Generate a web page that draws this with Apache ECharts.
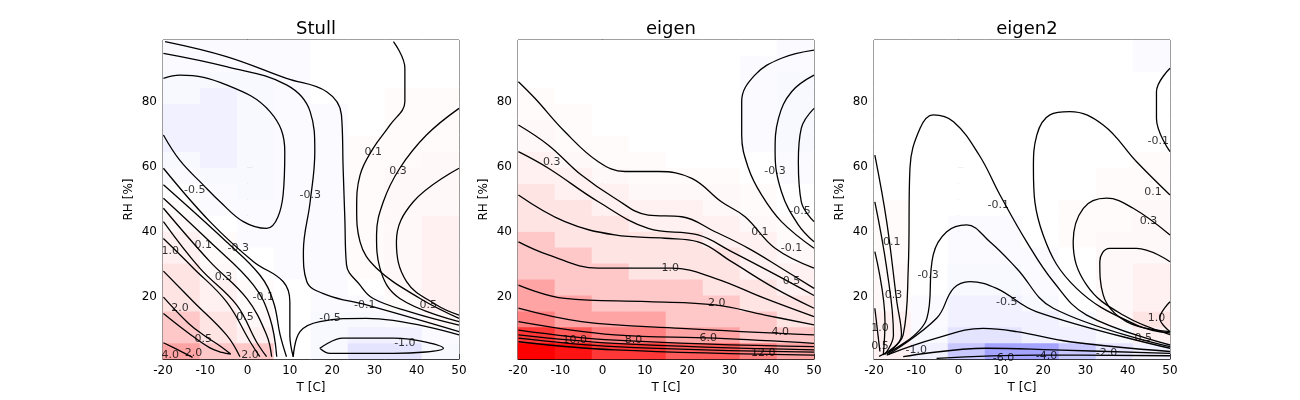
<!DOCTYPE html>
<html>
<head>
<meta charset="UTF-8">
<script src="https://cdn.jsdelivr.net/npm/echarts@6/dist/echarts.min.js"></script>
<style>
  body{ margin:0; background:#fff; }
  #chart{ width:1300px; height:400px; }
</style>
</head>
<body>
<div id="chart"></div>
<script>
// grid of values, columns = T, rows = RH (bottom to top)
const tCats = [-20, -10, 0, 10, 20, 30, 40, 50];
const rhCats = [2.5, 7.5, 12.5, 17.5, 22.5, 27.5, 32.5, 37.5, 42.5, 47.5, 52.5, 57.5, 62.5, 67.5, 72.5, 77.5, 82.5, 87.5, 92.5, 97.5];
const titles = ['Stull', 'eigen', 'eigen2'];
const levels = [-8, -6, -4, -2, -1, -0.5, -0.3, -0.1, 0.1, 0.3, 0.5, 1, 2, 4, 6, 8, 10, 12, 14, 20];

const stullGrid = [
  [4, 2, 2, 0, -0.5, -1.2, -1.2, -0.5],
  [2.5, 1.5, 0.5, -0.1, -0.5, -0.8, -0.7, -0.3],
  [2, 1, 0.3, -0.1, -0.4, -0.4, -0.2, 0.3],
  [1.5, 0.7, 0.2, -0.1, -0.3, -0.2, 0.1, 0.5],
  [1.2, 0.5, 0.1, -0.1, -0.2, 0, 0.3, 0.6],
  [1.0, 0.4, 0, -0.15, -0.2, 0.1, 0.4, 0.6],
  [0.8, 0.2, -0.1, -0.2, -0.2, 0.15, 0.45, 0.6],
  [0.6, 0.1, -0.15, -0.25, -0.15, 0.2, 0.45, 0.55],
  [0.4, 0, -0.2, -0.3, -0.15, 0.2, 0.45, 0.5],
  [0.1, -0.15, -0.3, -0.3, -0.15, 0.2, 0.4, 0.45],
  [-0.1, -0.3, -0.35, -0.3, -0.15, 0.2, 0.35, 0.4],
  [-0.3, -0.45, -0.45, -0.3, -0.15, 0.15, 0.3, 0.35],
  [-0.45, -0.55, -0.5, -0.3, -0.15, 0.12, 0.25, 0.3],
  [-0.55, -0.6, -0.5, -0.3, -0.15, 0.1, 0.2, 0.25],
  [-0.55, -0.6, -0.5, -0.3, -0.12, 0.08, 0.15, 0.2],
  [-0.55, -0.6, -0.5, -0.3, -0.12, 0.06, 0.12, 0.15],
  [-0.5, -0.55, -0.45, -0.25, -0.1, 0.05, 0.1, 0.1],
  [-0.4, -0.5, -0.4, -0.2, -0.1, 0.04, 0.07, 0.08],
  [-0.2, -0.3, -0.3, -0.2, -0.1, 0.03, 0.05, 0.05],
  [-0.15, -0.2, -0.2, -0.15, -0.08, 0.02, 0.03, 0.04]
];
const eigenGrid = [
  [14, 12, 11, 10, 9, 8, 6, 4],
  [10, 8, 7, 6, 5, 4, 3, 2],
  [7, 5.5, 4.5, 4, 3.5, 3, 2.5, 1.5],
  [5, 4, 3.2, 2.8, 2.5, 2, 1.5, 1],
  [4, 3, 2.5, 2.2, 2, 1.6, 1.2, 0.7],
  [3, 2.5, 2, 1.8, 1.6, 1.3, 0.9, 0.5],
  [2.5, 2, 1.6, 1.4, 1.3, 1, 0.7, 0.35],
  [2, 1.6, 1.3, 1.1, 1, 0.8, 0.5, 0.2],
  [1.6, 1.3, 1, 0.9, 0.8, 0.6, 0.35, 0.1],
  [1.3, 1, 0.8, 0.6, 0.55, 0.45, 0.2, 0],
  [1, 0.7, 0.5, 0.4, 0.35, 0.3, 0.1, -0.1],
  [0.8, 0.5, 0.3, 0.2, 0.15, 0.15, 0, -0.2],
  [0.6, 0.35, 0.2, 0.1, 0.08, 0.05, -0.1, -0.3],
  [0.45, 0.25, 0.12, 0.08, 0.05, 0.02, -0.15, -0.4],
  [0.3, 0.15, 0.08, 0.05, 0.03, 0, -0.2, -0.45],
  [0.2, 0.1, 0.05, 0.03, 0.02, 0, -0.2, -0.5],
  [0.12, 0.06, 0.03, 0.02, 0.01, 0, -0.2, -0.5],
  [0.08, 0.04, 0.02, 0.01, 0.01, 0, -0.15, -0.4],
  [0.05, 0.03, 0.01, 0.01, 0.01, 0, -0.12, -0.3],
  [0.03, 0.02, 0.01, 0, 0, 0, -0.1, -0.2]
];
const eigen2Grid = [
  [0.5, -1, -4, -6, -5, -3, -2, -1],
  [0.6, -0.5, -1.2, -1.2, -1, -0.8, -0.5, 0.6],
  [0.5, -0.2, -0.8, -0.8, -0.7, -0.4, 0.3, 1],
  [0.4, -0.15, -0.6, -0.6, -0.4, -0.1, 0.4, 0.8],
  [0.35, -0.1, -0.45, -0.5, -0.3, 0, 0.4, 0.6],
  [0.3, -0.1, -0.35, -0.4, -0.2, 0.05, 0.4, 0.5],
  [0.25, -0.1, -0.3, -0.3, -0.15, 0.08, 0.35, 0.45],
  [0.2, -0.1, -0.25, -0.2, -0.1, 0.1, 0.3, 0.4],
  [0.15, -0.08, -0.15, -0.15, -0.05, 0.1, 0.25, 0.35],
  [0.1, -0.06, -0.1, -0.1, -0.03, 0.1, 0.2, 0.3],
  [0.08, -0.05, -0.08, -0.08, 0, 0.08, 0.15, 0.25],
  [0.06, -0.04, -0.06, -0.06, 0, 0.06, 0.12, 0.2],
  [0.04, -0.03, -0.05, -0.04, 0, 0.04, 0.08, 0.12],
  [0.02, -0.02, -0.03, -0.02, 0, 0.03, 0.05, 0.05],
  [0, -0.01, -0.02, -0.01, 0, 0.02, 0.03, 0.02],
  [0, 0, -0.01, 0, 0, 0.01, 0.01, 0],
  [0, 0, 0, 0, 0, 0, 0, -0.05],
  [0, 0, 0, 0, 0, 0, -0.02, -0.1],
  [0, 0, 0, 0, 0, 0, -0.03, -0.12],
  [0, 0, 0, 0, 0, 0, -0.03, -0.12]
];

// contour lines [T, RH]
const stullLines = [
  [[-19.5,98.5],[-5,93.9],[9.2,87.2],[18.7,83.1],[22.2,76],[22.6,59.6],[23,44.2],[23.4,29.9],[26.6,23.7],[29.7,19.6],[38.4,15.5],[50,11.4]],
  [[-19.9,94.9],[-5,90.8],[9.2,85.2],[14.8,77],[15.9,64.7],[14.8,49.3],[13.2,34],[14,24.8],[18.7,20.7],[28.1,17.6],[50,9.4]],
  [[-19.9,87.2],[-16,88.2],[-5,85.2],[5.3,77],[8.8,64.7],[8.4,51.4],[4.5,41.1],[-1,43.2],[-6.5,49.3],[-10.5,54.5],[-16,62],[-19.9,69.8]],
  [[34.5,98.5],[37.2,90.3],[37.2,80.1],[33.7,72.9],[29.7,65.7],[26.6,57.5],[25.8,47.3],[26.6,37],[30.5,28.9],[40.8,19.6],[50,13.5]],
  [[50,78],[42.3,69.8],[36,59.6],[32.1,49.3],[30.5,39.1],[31.3,28.9],[36,19.6],[50,12.5]],
  [[50,59.6],[39.2,49.3],[35.2,37],[37.6,24.8],[44.7,17.6],[50,14.5]],
  [[10.8,1.7],[12.4,9.4],[17.1,12.5],[28.1,13.5],[50,8.4]],
  [[17.1,4.3],[22.6,7.4],[34.5,7.4],[46.3,4.3],[34.5,2.7],[19.5,2.7],[17.1,4.3]],
  [[-19.9,59.6],[-8.9,43.2],[1.4,30.9],[8.4,24.8],[10,18.6],[10,8.4],[10.8,1.7]],
  [[-19.9,54.5],[-5,37],[2.9,26.8],[6.1,18.6],[7.7,8.4],[9.2,1.7]],
  [[-19.9,50.4],[-8.9,37],[1.4,23.7],[5.3,13.5],[6.9,1.7]],
  [[-19.9,47.3],[-8.9,30.9],[-0.2,19.6],[4.5,8.4],[5.7,1.7]],
  [[-19.9,43.2],[-11.3,28.9],[-2.6,17.6],[2.1,6.3],[4.5,1.7]],
  [[-19.9,38],[-12.8,28.9],[-5,18.6],[0.6,6.3],[2.9,1.7]],
  [[-19.9,28],[-12.8,18.6],[-5,8.4],[-1.8,1.7]],
  [[-19.9,15],[-14,9],[-9,4.5],[-6,3],[-4,2.5],[-6.5,5],[-10,8],[-14,12],[-19.9,20]],
  [[-19.9,6],[-16,3.5],[-13,1.5]]
];
const eigenLines = [
  [[-19.9,86.2],[-16,81.1],[-8.9,70.8],[-1,61.6],[5.3,58.6],[13.2,58.6],[21.1,56.5],[28.1,49.3],[33.7,44.7],[40.8,35],[50,28.9]],
  [[-19.9,72.9],[-12.8,66.7],[-5,57.5],[2.9,50.4],[10.8,45.2],[18.7,44.7],[26.6,40.1],[34.5,35],[42.3,28.9],[50,22.7]],
  [[-19.9,64.7],[-12.8,59.6],[-1,49.3],[10.8,41.1],[22.6,39.1],[30.5,34],[40.8,27],[50,20.5]],
  [[-19.9,51.4],[-8.9,43.2],[2.9,39.1],[14.8,38.1],[22.6,37],[30.5,30.9],[40.8,22.7],[50,16.6]],
  [[-19.9,37],[-12.8,33],[-1,28.9],[16.3,28.9],[26.6,25.8],[38.4,19.6],[50,14]],
  [[-19.9,23.7],[-8.9,19.6],[10.8,18.6],[26.6,17.6],[38.4,14.5],[50,11.5]],
  [[-19.9,16.6],[-5,12.5],[18.7,10.4],[50,8.4]],
  [[-19.9,12.5],[2.9,8.4],[26.6,7.4],[50,5.8]],
  [[-19.9,9.9],[2.9,6.8],[50,4.8]],
  [[-19.9,8.4],[2.9,5.8],[50,3.8]],
  [[-19.9,7.4],[2.9,4.8],[50,3.1]],
  [[-19.9,6.3],[2.9,3.8],[50,2.2]],
  [[50,95.9],[42.3,93.4],[36,88.2],[32.9,80.1],[32.9,69.8],[34.5,59.6],[37.6,51.4],[42.3,43.2],[50,35]],
  [[50,88.2],[44.7,83.1],[41.6,74.9],[40.8,64.7],[42.3,52.4],[46.3,42.2],[50,37]],
  [[50,78],[47,71.9],[46.3,61.6],[47,49.3],[50,43.2]]
];
const eigen2Lines = [
  [[-18.8,1.8],[-13.1,8.4],[-11.9,28.9],[-11.5,59.6],[-9.1,71.9],[-6,76],[-1.2,73.9],[4.9,63.6],[9.8,51.4],[16.1,37],[22.4,24.8],[30.3,14.5],[50,5.3]],
  [[-17,2.7],[-7.5,13.5],[-6,33],[-2.8,40.1],[1.9,42.2],[7.4,37],[13.7,28.9],[22.4,16.6],[50,4.8]],
  [[-16.5,2.5],[-5.2,13.5],[-1.2,22.7],[2.7,24.8],[9,22.7],[18.5,15.5],[50,4.3]],
  [[-17,2.2],[-5.2,7.4],[5.8,10.4],[13.7,9.4],[26.3,6.3],[50,3.3]],
  [[-13.1,1.7],[6.6,4.3],[22.4,3.8],[50,2.7]],
  [[-5.2,1.2],[18.5,2.2],[50,2]],
  [[50,9],[42.1,11.4],[27.9,22.7],[20,39.1],[17.7,59.6],[18.5,69.8],[21.6,76],[26.3,77],[34.2,72.9],[42.1,61.6],[50,51.4]],
  [[50,8.5],[38.9,14.5],[30.3,23.7],[27.1,37],[29.5,47.3],[35,50.4],[41.3,47.3],[50,39.1]],
  [[50,9.4],[39.7,12.5],[34.2,20.7],[33.4,30.9],[35.7,35],[42.1,35],[50,30.9]],
  [[50,18.6],[47.6,13.5],[50,9.4]],
  [[50,90.3],[46.8,83.1],[46.8,74.9],[50,64.7]],
  [[-19.8,63.6],[-17,43.2],[-14.6,18.6],[-13.5,8.4],[-17,2.5]],
  [[-19.8,49.3],[-17,28.9],[-15.4,8.4],[-17.5,2.3]],
  [[-19.8,34],[-17.4,12.5],[-17.8,2.2]],
  [[-19.8,16.6],[-18.6,3.3]]
];

// inline contour labels [T, RH, text]
const stullLabels = [[-12.5,53,'-0.5'],[-10.5,36,'0.1'],[-2.2,35,'-0.3'],[-5.7,26,'0.3'],[3.7,20,'-0.1'],[-0.6,14,'0.5'],[-18.3,34,'1.0'],[-16,16.6,'2.0'],[-18.3,2.2,'4.0'],[-12.8,2.7,'2.0'],[-10.5,7,'0.5'],[0.6,2.2,'2.0'],[14.8,51.4,'-0.3'],[29.7,64.7,'0.1'],[35.6,58.6,'0.3'],[27.7,17.6,'-0.1'],[42.7,17.6,'0.5'],[19.5,13.5,'-0.5'],[37.2,5.8,'-1.0']];
const eigenLabels = [[-12,61.6,'0.3'],[37.2,40,'0.1'],[40.8,58.6,'-0.3'],[46.7,46.3,'-0.5'],[44.7,35,'-0.1'],[16,28.9,'1.0'],[44.7,24.8,'0.5'],[27,18.1,'2.0'],[42,9.4,'4.0'],[25,7.4,'6.0'],[7.3,6.8,'8.0'],[-6.6,6.8,'10.0'],[38,2.7,'12.0']];
const eigen2Labels = [[-15.8,37,'0.1'],[-15.4,20.7,'0.3'],[-18.6,10.4,'1.0'],[-18.6,5,'0.5'],[-10,3.8,'-1.0'],[-7.2,26.8,'-0.3'],[9.4,48.3,'-0.1'],[11.4,18.6,'-0.5'],[10.6,1.4,'-6.0'],[20.8,2,'-4.0'],[35,2.7,'-2.0'],[46,52.4,'0.1'],[44.9,43.2,'0.3'],[43.7,7.4,'0.5'],[46.8,13.5,'1.0'],[47.2,67.8,'-0.1']];

const grids = [stullGrid, eigenGrid, eigen2Grid];
const lineSets = [stullLines, eigenLines, eigen2Lines];
const labelSets = [stullLabels, eigenLabels, eigen2Labels];
const lefts = [163, 518, 874];

function bwr(v) {
  const t = Math.min(Math.abs(v) / 14, 1);
  const c = Math.round(255 * (1 - t));
  return v >= 0 ? `rgb(255,${c},${c})` : `rgb(${c},${c},255)`;
}
const pieces = [];
for (let i = 0; i < levels.length - 1; i++) {
  const mid = (levels[i] + levels[i + 1]) / 2;
  pieces.push({ gte: levels[i], lt: levels[i + 1], color: bwr(levels[i] < 0 && levels[i + 1] > 0 ? 0 : mid) });
}
pieces[0].gte = -100; pieces[pieces.length - 1].lt = 100;

const font = 'DejaVu Sans';
const option = { animation: false, grid: [], xAxis: [], yAxis: [], series: [], title: [] };

for (let p = 0; p < 3; p++) {
  const rect = { left: lefts[p], top: 40, width: 296, height: 319 };
  option.grid.push(Object.assign({}, rect));
  option.grid.push(Object.assign({ show: true, borderColor: '#000', borderWidth: 1, backgroundColor: 'transparent' }, rect));
  option.xAxis.push({ type: 'category', gridIndex: 2 * p, data: tCats, show: false });
  option.yAxis.push({ type: 'category', gridIndex: 2 * p, data: rhCats, show: false });
  option.xAxis.push({
    type: 'value', gridIndex: 2 * p + 1, min: -20, max: 50, interval: 10,
    name: 'T [C]', nameLocation: 'middle', nameGap: 20, nameTextStyle: { fontFamily: font, fontSize: 12, color: '#000' },
    axisLine: { lineStyle: { color: '#000' } }, splitLine: { show: false },
    axisTick: { inside: true, length: 5, lineStyle: { color: '#000' } },
    axisLabel: { fontFamily: font, fontSize: 12, color: '#000', margin: 6 }
  });
  option.yAxis.push({
    type: 'value', gridIndex: 2 * p + 1, min: 1, max: 99,
    name: 'RH [%]', nameLocation: 'middle', nameGap: 28, nameTextStyle: { fontFamily: font, fontSize: 12, color: '#000' },
    axisLine: { show: true, lineStyle: { color: '#000' } }, splitLine: { show: false },
    axisTick: { inside: true, length: 5, customValues: [20, 40, 60, 80], lineStyle: { color: '#000' } },
    axisLabel: { fontFamily: font, fontSize: 12, color: '#000', margin: 6, customValues: [20, 40, 60, 80] }
  });
  option.title.push({
    text: titles[p], left: lefts[p] + 148, top: 15, textAlign: 'center',
    textStyle: { fontFamily: font, fontSize: 18, fontWeight: 'normal', color: '#000' }
  });
  const hm = [];
  grids[p].forEach((row, yi) => row.forEach((v, xi) => hm.push([xi, yi, v])));
  option.series.push({ type: 'heatmap', xAxisIndex: 2 * p, yAxisIndex: 2 * p, data: hm, z: 1 });
  lineSets[p].forEach(pts => option.series.push({
    type: 'line', xAxisIndex: 2 * p + 1, yAxisIndex: 2 * p + 1, data: pts, smooth: 0.4,
    symbol: 'none', lineStyle: { color: '#000', width: 1.3 }, z: 3, clip: true
  }));
  option.series.push({
    type: 'scatter', xAxisIndex: 2 * p + 1, yAxisIndex: 2 * p + 1, symbolSize: 0, z: 4,
    data: labelSets[p].map(d => ({ value: [d[0], d[1]], name: d[2] })),
    label: { show: true, position: 'inside', formatter: '{b}', fontFamily: font, fontSize: 11, color: '#000' }
  });
}
option.visualMap = {
  type: 'piecewise', show: false, dimension: 2, seriesIndex: [0, 1 + stullLines.length + 1, 2 + stullLines.length + 1 + eigenLines.length + 1],
  pieces: pieces
};

echarts.init(document.getElementById('chart')).setOption(option);
</script>
</body>
</html>
